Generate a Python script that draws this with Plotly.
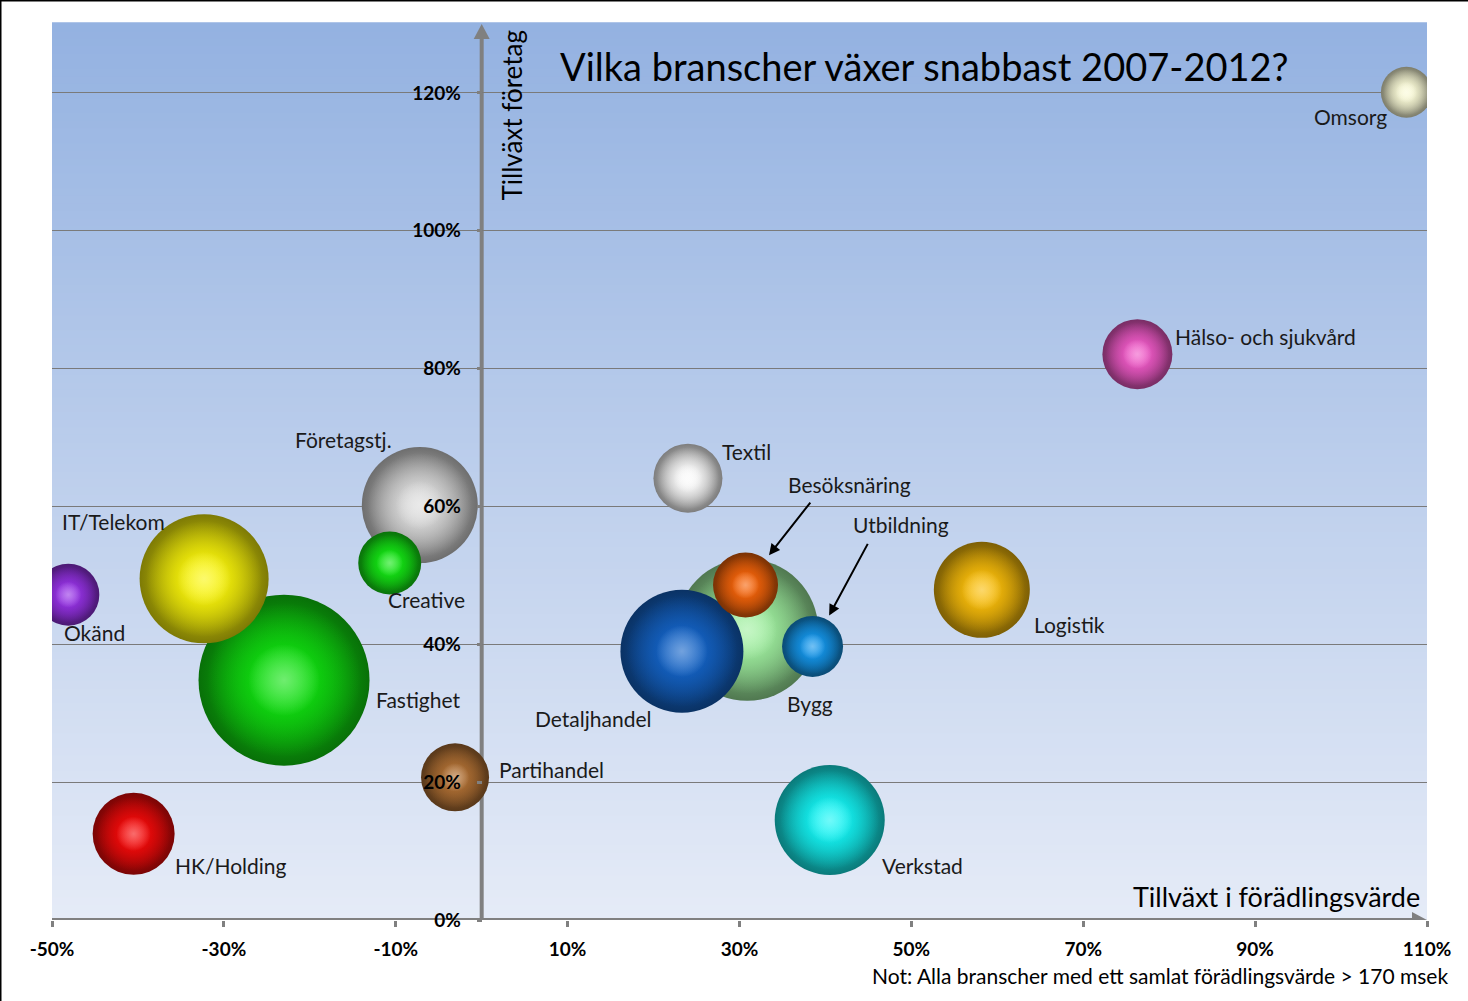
import plotly.graph_objects as go

# Branscher, ritordning: de som ligger bakom kommer först
branscher = ["Fastighet", "IT/Telekom", "Okänd", "HK/Holding", "Företagstj.", "Creative",
             "Partihandel", "Bygg", "Detaljhandel", "Besöksnäring", "Utbildning", "Textil",
             "Verkstad", "Logistik", "Hälso- och sjukvård", "Omsorg"]
tillvaxt_foradling = [-23.0, -32.3, -48.1, -40.5, -7.2, -10.7,
                      -3.1, 30.9, 23.3, 30.7, 38.5, 24.0,
                      40.5, 58.2, 76.3, 107.6]
tillvaxt_foretag = [34.8, 49.5, 47.2, 12.5, 60.2, 51.8,
                    20.7, 42.1, 39.0, 48.6, 39.7, 64.1,
                    14.5, 47.9, 82.1, 120.1]
bubbla = [171, 129, 62, 82, 116, 63,
          68, 142, 123, 65, 61, 69,
          110, 96, 70, 51]
farg = [(16, 225, 16), (250, 245, 10), (150, 50, 230), (245, 10, 10), (220, 220, 220), (20, 230, 20),
        (176, 112, 52), (160, 240, 160), (20, 100, 200), (245, 100, 10), (20, 150, 235), (250, 250, 250),
        (20, 245, 245), (250, 190, 10), (240, 90, 200), (250, 250, 215)]

# etikettens placering relativt bubblan (px) och ankare
etikett_dx = [90, -144, -6, 39, -26, -3.5, 42, 38, -149, 40, 38, 32, 50, 50, 36, -56]
etikett_dy = [-19, 57, -38, -32, 66, -37, 8, -74, -67, 101, 122, 27, -45, -35, 18, -24]
etikett_ankare = ["left", "left", "left", "left", "right", "left", "left", "left",
                  "left", "left", "left", "left", "left", "left", "left", "center"]
med_pil = ["Besöksnäring", "Utbildning"]

x_ticks = [-50, -30, -10, 10, 30, 50, 70, 90, 110]
y_ticks = [0, 20, 40, 60, 80, 100, 120]

FONT = "Lato"
GRA = "#808080"


def rgba(c, a=1.0, f=1.0):
    return "rgba(%d,%d,%d,%.2f)" % (min(255, c[0] * f), min(255, c[1] * f), min(255, c[2] * f), a)


def ljus(c, t):
    return tuple(c[k] + (255 - c[k]) * t for k in range(3))


# varje bubbla ritas i tre lager (kant, kropp, glans) för en sfärisk effekt
px_, py_, ps, pc, pg, ptxt = [], [], [], [], [], []
for i in range(len(branscher)):
    c = farg[i]
    lager = [
        (bubbla[i], rgba(c, 1, 0.5), rgba(c, 1, 1.0)),
        (bubbla[i] * 0.9, rgba(c, 0.0), rgba(c, 1, 1.0)),
        (bubbla[i] * 0.42, rgba(ljus(c, 0.6), 0.0), rgba(ljus(c, 0.5), 0.8)),
    ]
    for storlek, kant, mitt in lager:
        px_.append(tillvaxt_foradling[i])
        py_.append(tillvaxt_foretag[i])
        ps.append(storlek)
        pc.append(kant)
        pg.append(mitt)
        ptxt.append(branscher[i])

fig = go.Figure()
fig.add_trace(go.Scatter(
    x=px_, y=py_, mode="markers", text=ptxt, hoverinfo="text",
    marker=dict(size=ps, sizemode="diameter", sizeref=1, color=pc, opacity=1,
                line=dict(width=0), gradient=dict(type="radial", color=pg)),
    cliponaxis=True, showlegend=False))

shapes = []
# bakgrundsgradient
n = 120
top, bot = (148, 178, 225), (229, 235, 247)
for i in range(n):
    t = i / (n - 1)
    c = tuple(round(bot[k] + (top[k] - bot[k]) * t) for k in range(3))
    shapes.append(dict(type="rect", xref="paper", yref="paper", x0=0, x1=1,
                       y0=i / n, y1=(i + 1) / n + 0.002, line=dict(width=0),
                       fillcolor="rgb(%d,%d,%d)" % c, layer="below"))
# axellinjer
shapes.append(dict(type="line", xref="x", yref="paper", x0=0, x1=0, y0=0, y1=0.99,
                   line=dict(color=GRA, width=4), layer="between"))
shapes.append(dict(type="line", xref="paper", yref="y", x0=0, x1=0.995, y0=0, y1=0,
                   line=dict(color=GRA, width=4), layer="between"))
# pilspetsar
shapes.append(dict(type="path", xref="x", yref="paper", xsizemode="pixel", ysizemode="pixel",
                   xanchor=0, yanchor=1, path="M-8,-15 L8,-15 L0,0 Z",
                   fillcolor=GRA, line=dict(width=0)))
shapes.append(dict(type="path", xref="paper", yref="y", xsizemode="pixel", ysizemode="pixel",
                   xanchor=1, yanchor=0, path="M-15,-8 L-15,8 L0,0 Z",
                   fillcolor=GRA, line=dict(width=0)))
# svart ram uppe och vänster
shapes.append(dict(type="line", xref="paper", yref="paper", x0=-52 / 1375, x1=1416 / 1375,
                   y0=1 + 23.5 / 896, y1=1 + 23.5 / 896, line=dict(color="black", width=2)))
shapes.append(dict(type="line", xref="paper", yref="paper", x0=-51.5 / 1375, x1=-51.5 / 1375,
                   y0=1 + 24 / 896, y1=-81 / 896, line=dict(color="black", width=2)))

annotations = []
for i, namn in enumerate(branscher):
    annotations.append(dict(
        x=tillvaxt_foradling[i], y=tillvaxt_foretag[i], text=namn, showarrow=False,
        xanchor=etikett_ankare[i], yanchor="middle",
        xshift=etikett_dx[i], yshift=etikett_dy[i],
        font=dict(family=FONT, size=21, color="#1a1a1a")))
# pilar till Besöksnäring och Utbildning
pil_svans = {"Besöksnäring": (66, -84, 38), "Utbildning": (56, -104, 35)}
for namn in med_pil:
    i = branscher.index(namn)
    ax, ay, s = pil_svans[namn]
    annotations.append(dict(
        x=tillvaxt_foradling[i], y=tillvaxt_foretag[i], text="", showarrow=True,
        ax=ax, ay=ay, standoff=s, arrowhead=2, arrowsize=1.1, arrowwidth=2,
        arrowcolor="black"))
# titlar
annotations.append(dict(x=(924 - 52) / 1375, y=1 - 42 / 896, xref="paper", yref="paper",
                        text="Vilka branscher växer snabbast 2007-2012?", showarrow=False,
                        xanchor="center", yanchor="middle",
                        font=dict(family=FONT, size=38, color="black")))
annotations.append(dict(x=(511 - 52) / 1375, y=1 - 3 / 896, xref="paper", yref="paper",
                        text="Tillväxt företag", textangle=-90, showarrow=False,
                        xanchor="center", yanchor="top",
                        font=dict(family=FONT, size=26, color="black")))
annotations.append(dict(x=(1422 - 52) / 1375, y=24 / 896, xref="paper", yref="paper",
                        text="Tillväxt i förädlingsvärde", showarrow=False,
                        xanchor="right", yanchor="middle",
                        font=dict(family=FONT, size=27, color="black")))
annotations.append(dict(x=(1450 - 52) / 1375, y=-55 / 896, xref="paper", yref="paper",
                        text="Not: Alla branscher med ett samlat förädlingsvärde > 170 msek",
                        showarrow=False, xanchor="right", yanchor="middle",
                        font=dict(family=FONT, size=21, color="black")))

fig.update_layout(
    width=1468, height=1001,
    margin=dict(l=52, r=41, t=24, b=81, pad=0),
    paper_bgcolor="white", plot_bgcolor="rgba(0,0,0,0)",
    shapes=shapes, annotations=annotations,
    xaxis=dict(range=[-50, 110], tickvals=x_ticks, ticktext=["%d%%" % v for v in x_ticks],
               showgrid=False, zeroline=False, showline=False,
               ticks="outside", ticklen=6, tickwidth=3, tickcolor=GRA,
               ticklabelstandoff=6,
               tickfont=dict(family=FONT, size=19, color="black", weight="bold")),
    yaxis=dict(range=[0, 130], tickvals=y_ticks, ticktext=["%d%%" % v for v in y_ticks],
               anchor="free", position=50 / 160,
               showgrid=True, gridcolor="#7a7a7a", gridwidth=1,
               zeroline=False, showline=False,
               ticks="outside", ticklen=5, tickwidth=3, tickcolor=GRA,
               ticklabelstandoff=12,
               tickfont=dict(family=FONT, size=19, color="black", weight="bold")),
)

fig.write_html("out.html", config={"displayModeBar": False},
               post_script="document.body.style.margin='0';")
